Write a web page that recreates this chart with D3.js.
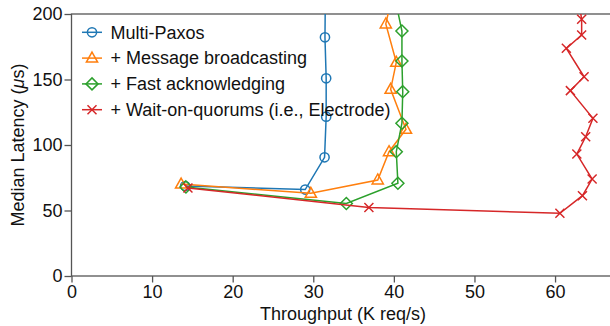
<!DOCTYPE html>
<html>
<head>
<meta charset="utf-8">
<script src="https://cdn.jsdelivr.net/npm/d3@7"></script>
<style>
  body { margin: 0; background: #fff; }
  svg { display: block; font-family: "Liberation Sans", Arial, sans-serif; }
</style>
</head>
<body>
<div id="chart"></div>
<script>
// series values: [throughput (K req/s), median latency (us)]
const multiPaxos = [[14.1, 68.7], [29.0, 66.0], [31.4, 90.6], [31.6, 121.6], [31.6, 150.9], [31.45, 182.2], [31.5, 215]];
const msgBroadcast = [[13.6, 70.2], [29.7, 63.1], [38.0, 73.3], [39.4, 94.9], [41.5, 112], [39.6, 142.5], [40.3, 163.1], [39.0, 192.4], [40.0, 220]];
const fastAck = [[14.2, 68], [34.1, 55.3], [40.5, 70.8], [40.3, 94.9], [41.0, 116.6], [41.1, 140.7], [41.0, 164.1], [41.0, 187], [39.8, 222]];
const waitQuorum = [[14.45, 67.2], [36.9, 52.3], [60.6, 47.9], [63.4, 61.3], [64.6, 74], [62.7, 93.1], [63.8, 106.3], [64.7, 120.4], [61.9, 141.5], [63.6, 152.1], [61.4, 173.8], [63.3, 184], [63.3, 196], [62.8, 215]];

const seriesNames = ["Multi-Paxos", "+ Message broadcasting", "+ Fast acknowledging", "+ Wait-on-quorums (i.e., Electrode)"];
const seriesColors = ["#1f77b4", "#ff7f0e", "#2ca02c", "#d62728"];
const seriesMarkers = ["circle", "triangle", "diamond", "cross"];
const xTicks = [0, 10, 20, 30, 40, 50, 60];
const yTicks = [0, 50, 100, 150, 200];

const series = [multiPaxos, msgBroadcast, fastAck, waitQuorum].map((values, i) => ({
    name: seriesNames[i], color: seriesColors[i], marker: seriesMarkers[i], values
}));

const width = 610, height = 326;
const margin = {top: 14, left: 71.5, bottom: 50};
const plotRight = 615.5;
const plotBottom = height - margin.bottom;
const fontSize = "18px";

const svg = d3.select("#chart").append("svg")
    .attr("width", width)
    .attr("height", height);

const x = d3.scaleLinear().domain([0, 67.5]).range([margin.left, plotRight]);
const y = d3.scaleLinear().domain([0, 200]).range([plotBottom, margin.top]);

svg.append("clipPath").attr("id", "plotClip")
  .append("rect")
    .attr("x", margin.left).attr("y", margin.top)
    .attr("width", plotRight - margin.left).attr("height", plotBottom - margin.top);

// axes
const axisColor = "#555";
const xAxis = svg.append("g")
    .attr("transform", `translate(0,${plotBottom})`)
    .call(d3.axisBottom(x).tickValues(xTicks).tickSize(6.5).tickPadding(3));
const yAxis = svg.append("g")
    .attr("transform", `translate(${margin.left},0)`)
    .call(d3.axisLeft(y).tickValues(yTicks).tickSize(7).tickPadding(2));

[xAxis, yAxis].forEach(g => {
    g.select(".domain").remove();
    g.selectAll(".tick line").attr("stroke", axisColor).attr("stroke-width", 1.3);
    g.selectAll(".tick text")
        .attr("fill", "#111")
        .style("font-size", fontSize)
        .style("font-family", "'Liberation Sans', Arial, sans-serif");
});
xAxis.selectAll(".tick text").attr("dy", "0.72em");

// frame
svg.append("rect")
    .attr("x", margin.left).attr("y", margin.top)
    .attr("width", plotRight - margin.left).attr("height", plotBottom - margin.top)
    .attr("fill", "none")
    .attr("stroke", axisColor)
    .attr("stroke-width", 1.3);

// axis titles
svg.append("text")
    .attr("x", 343).attr("y", 319.5)
    .attr("text-anchor", "middle")
    .style("font-size", fontSize)
    .attr("fill", "#111")
    .text("Throughput (K req/s)");

const yTitle = svg.append("text")
    .attr("transform", `translate(24,${(margin.top + plotBottom) / 2}) rotate(-90)`)
    .attr("text-anchor", "middle")
    .style("font-size", fontSize)
    .attr("fill", "#111");
yTitle.append("tspan").text("Median Latency (");
yTitle.append("tspan").style("font-style", "italic").text("\u03bc");
yTitle.append("tspan").text("s)");

// marker drawing
function drawMarker(sel, type, color) {
    const sw = 1.5;
    if (type === "circle") {
        sel.append("circle").attr("r", 4.6)
            .attr("fill", "none").attr("stroke", color).attr("stroke-width", sw);
    } else if (type === "triangle") {
        sel.append("path").attr("d", "M0,-6 L5.6,4 L-5.6,4 Z")
            .attr("fill", "none").attr("stroke", color).attr("stroke-width", sw);
    } else if (type === "diamond") {
        sel.append("path").attr("d", "M0,-6 L6,0 L0,6 L-6,0 Z")
            .attr("fill", "none").attr("stroke", color).attr("stroke-width", sw);
    } else {
        sel.append("path").attr("d", "M-4.5,-4.5 L4.5,4.5 M-4.5,4.5 L4.5,-4.5")
            .attr("fill", "none").attr("stroke", color).attr("stroke-width", sw);
    }
}

const line = d3.line().x(d => x(d[0])).y(d => y(d[1]));
const plot = svg.append("g").attr("clip-path", "url(#plotClip)");

series.forEach(s => {
    const g = plot.append("g");
    g.append("path")
        .datum(s.values)
        .attr("d", line)
        .attr("fill", "none")
        .attr("stroke", s.color)
        .attr("stroke-width", 1.5);
    g.selectAll(".pt")
        .data(s.values)
        .join("g")
        .attr("class", "pt")
        .attr("transform", d => `translate(${x(d[0])},${y(d[1])})`)
        .each(function() { drawMarker(d3.select(this), s.marker, s.color); });
});

// legend
const legend = svg.append("g");
series.forEach((s, i) => {
    const ly = 32.3 + i * 25.8;
    const row = legend.append("g").attr("transform", `translate(0,${ly})`);
    row.append("line")
        .attr("x1", 82).attr("x2", 102)
        .attr("stroke", s.color).attr("stroke-width", 1.5);
    const m = row.append("g").attr("transform", "translate(92,0)");
    drawMarker(m, s.marker, s.color);
    row.append("text")
        .attr("x", 110.5).attr("y", 0).attr("dy", "0.35em")
        .style("font-size", fontSize)
        .attr("fill", "#111")
        .text(s.name);
});
</script>
</body>
</html>
